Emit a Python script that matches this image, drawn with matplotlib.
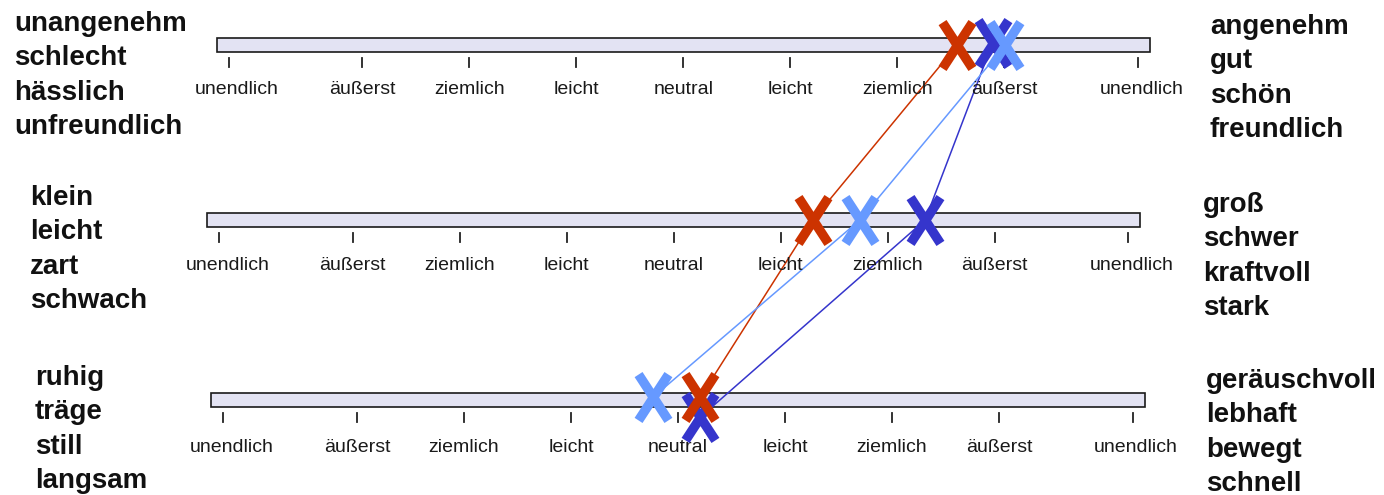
import matplotlib.pyplot as plt
from matplotlib.patches import Rectangle
from matplotlib.path import Path
from matplotlib.markers import MarkerStyle

plt.rcParams["font.family"] = ["Liberation Sans", "DejaVu Sans"]

# scale: unendlich .. neutral .. unendlich
tick_labels = ["unendlich", "äußerst", "ziemlich", "leicht", "neutral",
               "leicht", "ziemlich", "äußerst", "unendlich"]
tick_values = [-4.25, -3, -2, -1, 0, 1, 2, 3, 4.25]

left_words = [
    ["unangenehm", "schlecht", "hässlich", "unfreundlich"],
    ["klein", "leicht", "zart", "schwach"],
    ["ruhig", "träge", "still", "langsam"],
]
right_words = [
    ["angenehm", "gut", "schön", "freundlich"],
    ["groß", "schwer", "kraftvoll", "stark"],
    ["geräuschvoll", "lebhaft", "bewegt", "schnell"],
]

# ratings per row (top, middle, bottom)
red = [2.56, 1.30, 0.21]
dark_blue = [2.89, 2.35, 0.21]
light_blue = [3.01, 1.74, -0.23]

# layout (pixels)
W, H = 1384, 495
center_px, unit = 678, 107
row_y = [45, 220, 400]
row_shift = [0.05, -0.04, 0.0]
label_off = [44, 46, 47]
left_x = [14, 30, 35]
left_first = [-23, -24, -24]
right_x = [1210, 1203, 1206]
right_first = [-20, -17, -21]
line_gap = 34.3
bar_half = 4.36
label_nudge = [0.08, 0, 0, 0, 0, 0, 0, 0, 0.03]

fig = plt.figure(figsize=(W / 100, H / 100), dpi=100)
ax = fig.add_axes([0, 0, 1, 1])
ax.set_xlim(-center_px / unit, (W - center_px) / unit)
ax.set_ylim(H, 0)
ax.axis("off")

for r in range(3):
    y = row_y[r]
    s = row_shift[r]
    ax.add_patch(Rectangle((-bar_half + s, y - 7), 2 * bar_half, 14,
                           facecolor="#e3e3f3", edgecolor="#1a1a1a",
                           linewidth=1.2, zorder=1))
    for v, lab, n in zip(tick_values, tick_labels, label_nudge):
        ax.plot([v + s, v + s], [y + 13, y + 22], color="#222222",
                linewidth=1.3, zorder=1)
        ax.text(v + s + n, y + label_off[r], lab, ha="center", va="center",
                fontsize=14, color="#1a1a1a")
    for i, w in enumerate(left_words[r]):
        fig.text(left_x[r] / W, 1 - (y + left_first[r] + 9 + i * line_gap) / H,
                 w, ha="left", va="baseline", fontsize=20, fontweight="bold",
                 color="#111111")
    for i, w in enumerate(right_words[r]):
        fig.text(right_x[r] / W, 1 - (y + right_first[r] + 9 + i * line_gap) / H,
                 w, ha="left", va="baseline", fontsize=20, fontweight="bold",
                 color="#111111")

cross = MarkerStyle(Path([(-0.652, -1), (0.652, 1), (-0.652, 1), (0.652, -1)],
                         [Path.MOVETO, Path.LINETO, Path.MOVETO, Path.LINETO]),
                    capstyle="butt")

series = [
    (dark_blue, "#3535cc", [-2, 0, 17], 3),
    (red, "#cc3300", [0, 0, -3], 4),
    (light_blue, "#6699ff", [0, 0, -3], 5),
]
for vals, col, dy, z in series:
    xs = [v + row_shift[r] for r, v in enumerate(vals)]
    ys = [row_y[r] + dy[r] for r in range(3)]
    ax.plot(xs, ys, color=col, linewidth=1.1, zorder=2)
    ax.plot(xs, ys, linestyle="none", marker=cross, markersize=33,
            markeredgewidth=6.8, markeredgecolor=col, markerfacecolor="none",
            zorder=z)

fig.savefig("out.png", dpi=100)
